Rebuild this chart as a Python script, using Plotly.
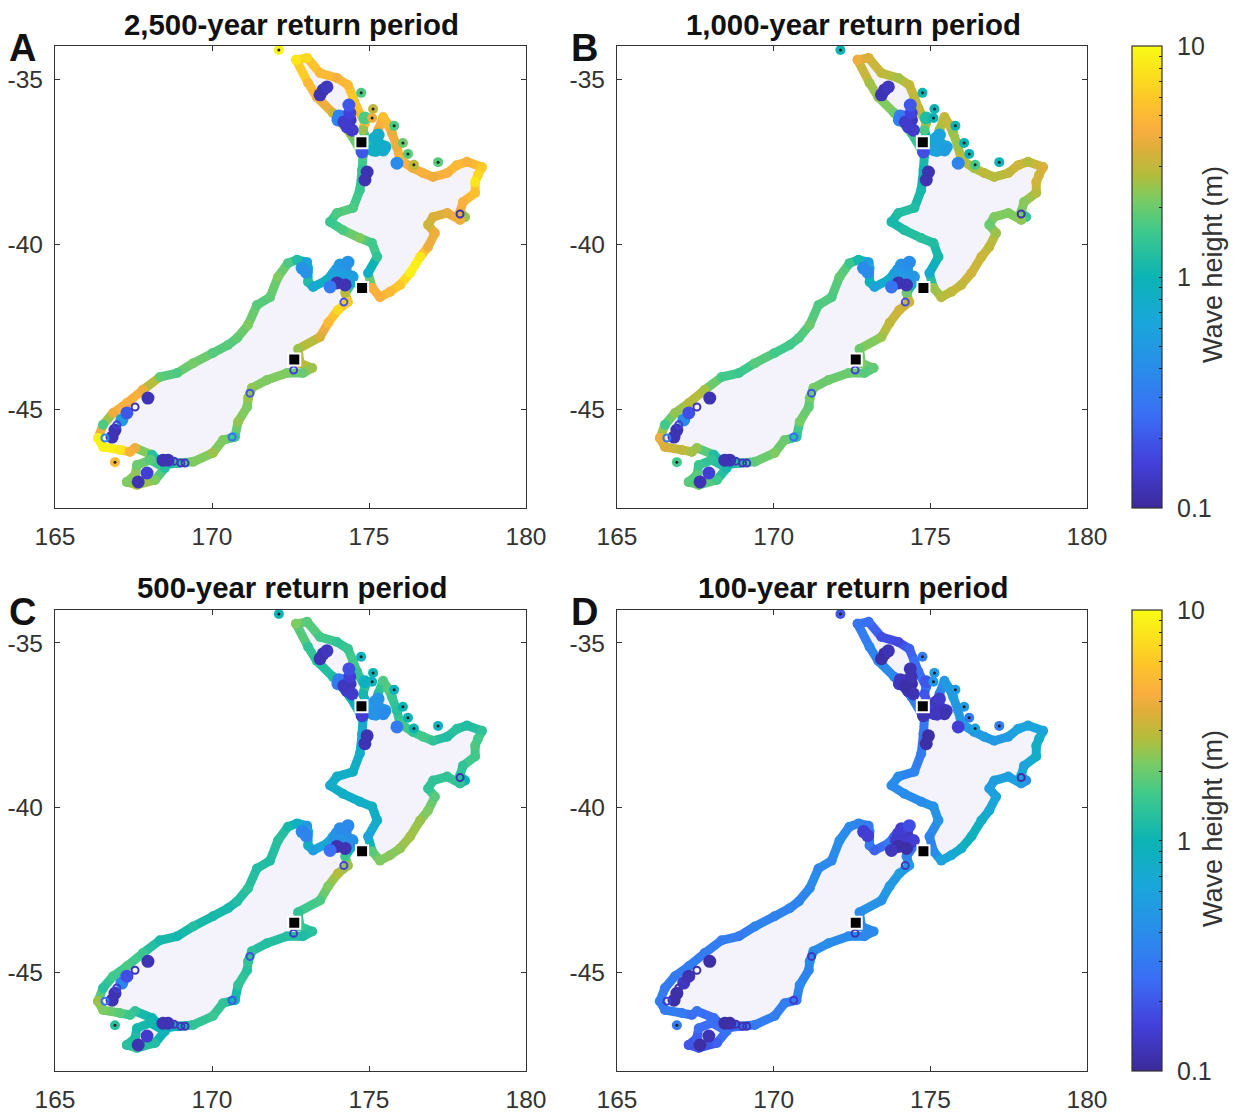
import numpy as np
import plotly.graph_objects as go
from plotly.colors import sample_colorscale

W, H = 1237, 1113
PANELS = ["A", "B", "C", "D"]
TITLES = ["2,500-year return period", "1,000-year return period",
          "500-year return period", "100-year return period"]

# North Island coast
north_lon = [172.68,173.03,173.44,173.98,174.33,174.49,174.62,174.87,174.81,175.03,175.22,175.29,175.45,175.61,175.73,175.89,175.99,176.40,176.72,177.04,177.49,177.80,178.12,178.60,178.47,178.38,178.38,177.99,177.90,178.06,177.90,177.49,177.04,176.88,177.10,176.88,176.63,176.31,175.99,175.67,175.35,175.10,174.97,175.26,175.10,174.71,174.17,173.76,173.98,174.49,174.71,174.78,174.81,174.40,173.85,173.34,173.06,172.68]
north_lat = [-34.42,-34.36,-34.82,-34.97,-35.18,-35.55,-35.88,-36.33,-36.55,-37.15,-37.21,-36.55,-36.15,-36.39,-36.64,-37.06,-37.45,-37.70,-37.85,-37.97,-37.85,-37.61,-37.51,-37.67,-37.91,-38.12,-38.45,-38.73,-39.03,-39.18,-39.27,-39.06,-39.18,-39.42,-39.67,-40.09,-40.39,-40.88,-41.24,-41.45,-41.61,-41.33,-40.88,-40.39,-39.97,-39.82,-39.58,-39.33,-39.06,-38.91,-38.36,-37.76,-37.30,-36.64,-36.03,-35.55,-35.12,-34.42]
north_h = {
 "A":[8,7,5,4.5,5,6,5.5,5,2.5,.8,.8,4,5.5,5,4,4,5,4,4.5,4,4.5,5,4.5,6,7,8,5.5,4.5,4,2.5,4,3.8,3.5,3.2,4,4,8,9,6,5,4.5,4.5,.8,1.4,1.6,2.2,1.7,1.5,1.7,1.7,1.5,1.4,1.7,2.5,3.2,4.5,5,8],
 "B":[4,3.5,3,2.6,3,3,3,2.8,1.7,.6,.6,2.5,3,3.2,2.5,2.5,3,2.6,3,2.8,3,3.2,2.8,3.5,3.3,3.3,2.8,2.3,2.2,1.5,2.4,2.2,2.2,2,2.5,3,3.2,3.3,3,3,2.8,2.5,.7,1.1,1.2,1.3,1.2,1.1,1.2,1.2,1.1,1,1.2,1.6,2,2.4,2.6,4],
 "C":[2.2,1.8,1.6,1.4,1.5,1.6,1.4,1.4,1.1,.5,.5,1.3,1.7,1.8,1.5,1.3,1.6,1.4,1.6,1.4,1.2,1.3,1.2,1.4,1.6,1.7,1.6,1.4,1.3,1,1.4,1.4,1.4,1.4,1.8,2.2,2.5,2.6,2.4,2.3,2.2,1.8,.6,.8,.85,.8,.8,.75,.8,.85,.75,.7,.8,1,1.2,1.3,1.4,2.2],
 "D":[.28,.25,.18,.17,.22,.25,.25,.28,.2,.15,.15,.35,.5,.55,.55,.45,.5,.5,.55,.5,.55,.6,.6,.6,.75,.85,.8,.6,.6,.4,.55,.55,.55,.55,.6,.7,.8,.9,.8,.7,.6,.4,.35,.45,.45,.4,.4,.4,.4,.35,.3,.28,.3,.35,.38,.38,.35,.28],
}

# South Island coast
south_lon = [166.37,166.53,166.85,167.29,167.80,168.34,168.89,169.40,170.03,170.51,170.80,171.15,171.43,171.85,172.10,172.42,172.71,173.03,173.06,173.06,173.22,173.66,173.85,174.30,174.46,174.24,174.33,174.01,173.70,173.44,172.74,172.80,173.19,172.90,172.39,171.75,171.27,171.15,171.12,170.83,170.73,170.35,170.03,169.40,168.89,168.44,168.09,167.55,167.39,167.07,166.53,166.37]
south_lat = [-45.88,-45.48,-45.12,-44.82,-44.42,-44.03,-43.91,-43.61,-43.30,-43.06,-42.85,-42.45,-41.85,-41.61,-41.00,-40.58,-40.48,-40.55,-40.73,-41.15,-41.30,-41.09,-40.88,-40.85,-41.18,-41.48,-41.76,-42.00,-42.39,-42.82,-43.18,-43.61,-43.76,-43.91,-43.91,-44.12,-44.36,-44.67,-44.94,-45.39,-45.85,-45.94,-46.33,-46.60,-46.64,-46.70,-46.39,-46.18,-46.30,-46.24,-46.15,-45.88]
south_h = {
 "A":[9,1.7,4,4.5,4,1.9,1.7,2.1,1.8,1.8,1.9,2.2,1.8,1.9,2.2,1.7,1.2,.6,.7,1.2,.7,.9,.7,.7,.7,2.8,6,7,5,3.5,2.5,3,2.5,2,2.2,2.2,2.4,2.5,2.2,2.4,1.5,2.2,2.5,2.2,1.4,1,1.3,4,4.5,8,9,9],
 "B":[4,1.6,2.4,2.8,2.6,1.6,1.5,1.8,1.6,1.6,1.7,2,1.7,1.7,1.9,1.5,1.1,.55,.7,1,.6,.8,.7,.7,.7,2,3.3,3.3,3,2.5,2,2.2,1.9,1.8,2,2,2.1,2.1,1.9,2.1,1.3,2,2.2,1.9,1.3,1,1.2,2.4,2.6,3,3.5,4],
 "C":[2.5,1.3,1.6,1.7,1.5,1.1,1.05,1.25,1.1,1.1,1.2,1.35,1.2,1.2,1.3,1.1,.85,.5,.6,.8,.55,.7,.6,.6,.6,1.5,2.5,2.8,2.2,1.7,1.4,1.5,1.3,1.2,1.25,1.25,1.35,1.4,1.3,1.4,1,1.4,1.5,1.4,1,.8,1,1.4,1.5,1.8,2.2,2.5],
 "D":[.32,.3,.3,.32,.3,.3,.3,.35,.33,.35,.35,.38,.38,.38,.42,.38,.35,.3,.3,.3,.22,.3,.22,.22,.25,.35,.5,.55,.5,.45,.4,.4,.38,.38,.4,.42,.4,.4,.35,.38,.3,.32,.32,.3,.25,.2,.25,.28,.25,.3,.3,.32],
}

# Stewart Island coast
stewart_lon = [167.29,167.61,168.19,168.50,168.03,167.61,167.55,167.29]
stewart_lat = [-47.21,-47.30,-47.15,-46.79,-46.54,-46.70,-47.00,-47.21]
stewart_h = {
 "A":[2.2,2.8,2.2,1.3,1.8,2,2.4,2.2],
 "B":[1.8,2,1.6,1.1,1.4,1.5,1.8,1.8],
 "C":[1.3,1.4,1.2,.9,1.1,1.1,1.2,1.3],
 "D":[.2,.2,.22,.28,.25,.25,.22,.2],
}

# Harbours and inlets (filled blobs)
inlet_lon = [173.54,173.44,173.66,174.17,174.40,174.30,174.46,174.01,174.04,174.20,174.39,174.36,175.19,175.35,175.51,175.29,175.45,175.13,175.89,174.94,174.87,174.78,174.87,173.98,174.24,174.40,174.17,174.08,174.33,173.92,174.46,173.98,174.24,173.76,172.87,173.00,166.91,166.82,167.13,167.29,167.96,168.44,168.60,167.93,167.65]
inlet_lat = [-35.33,-35.48,-35.24,-36.15,-36.24,-36.45,-36.55,-36.24,-36.12,-36.30,-36.03,-35.79,-36.79,-37.00,-37.06,-36.70,-37.15,-37.15,-37.55,-37.82,-38.06,-37.21,-36.18,-40.79,-40.73,-41.03,-41.00,-40.64,-40.55,-41.00,-41.00,-41.18,-41.24,-41.30,-40.73,-40.85,-45.64,-45.85,-45.33,-45.12,-44.67,-46.55,-46.55,-46.94,-47.21]
inlet_h = {
 "A":[.12,.12,.13,.15,.13,.15,.14,.35,.35,.14,.16,.2,.8,.8,.8,.8,.75,.85,.4,.12,.12,.2,1.7,.55,.5,.5,.55,.5,.45,.6,.55,.12,.12,.3,.45,.45,.12,.12,.5,.2,.12,.12,.12,.15,.12],
 "B":[.12,.12,.13,.15,.13,.15,.14,.35,.3,.14,.16,.2,.6,.6,.6,.6,.55,.6,.35,.12,.12,.18,1.2,.5,.45,.45,.5,.45,.4,.55,.5,.12,.12,.28,.4,.4,.12,.12,.4,.18,.12,.12,.12,.15,.12],
 "C":[.12,.12,.13,.14,.13,.14,.14,.3,.3,.13,.15,.18,.45,.45,.45,.45,.4,.45,.3,.12,.12,.15,.9,.45,.4,.4,.45,.4,.38,.45,.42,.12,.12,.25,.35,.35,.12,.12,.35,.18,.12,.12,.12,.14,.12],
 "D":[.11,.11,.12,.12,.11,.12,.12,.13,.13,.11,.12,.12,.13,.13,.13,.14,.12,.13,.15,.11,.11,.12,.2,.15,.13,.13,.14,.15,.18,.14,.15,.11,.11,.13,.15,.15,.11,.11,.13,.12,.11,.11,.11,.12,.11],
}

# Small sheltered sites (open rings)
ring_lon = [166.97,167.55,166.59,168.79,169.01,169.14,170.64,171.21,172.60,174.20,177.90]
ring_lat = [-45.48,-44.94,-45.88,-46.58,-46.64,-46.64,-45.85,-44.52,-43.82,-41.76,-39.09]
ring_h = {
 "A":[.15,.12,.4,.13,.13,.13,.25,.2,.15,.2,.12],
 "B":[.15,.12,.3,.13,.13,.13,.25,.2,.15,.18,.12],
 "C":[.15,.12,.25,.13,.13,.13,.2,.18,.14,.16,.12],
 "D":[.12,.11,.15,.12,.12,.12,.14,.13,.12,.13,.11],
}

# Offshore islands
island_lon = [172.13,174.75,175.13,175.10,175.80,176.08,176.24,177.20,176.43,166.91]
island_lat = [-34.12,-35.42,-35.91,-36.18,-36.42,-36.94,-37.27,-37.52,-37.60,-46.61]
island_h = {
 "A":[9,1.7,3,4,1.7,2,1.8,1.8,3,5],
 "B":[1,1,1,1,1,1,1,1,1.6,1.6],
 "C":[1,.9,1,.9,.9,1,1,.9,1,1.3],
 "D":[.2,.3,.5,.5,.5,.5,.3,.3,.6,.3],
}

# Cities: Auckland, Wellington, Christchurch
city_lon = [174.76,174.78,172.62]
city_lat = [-36.92,-41.33,-43.50]

CBAR_TICKS = [0.1,0.2,0.3,0.4,0.5,0.6,0.7,0.8,0.9,1,2,3,4,5,6,7,8,9,10]
CBAR_LABELS = ["0.1","1","10"]
CBAR_LABEL_VALUES = [0.1,1,10]

SCALE = [[0,"#3b2a98"],[.1,"#4340dc"],[.2,"#3a6ef5"],[.3,"#2a8cea"],[.4,"#1aa6da"],
         [.5,"#0bb4b4"],[.6,"#3fc98c"],[.67,"#7ccb62"],[.72,"#b2bd3c"],[.78,"#e0ae3a"],
         [.82,"#f9ae3f"],[.88,"#fdc42a"],[.94,"#fbe01c"],[1,"#f9fb15"]]
INK = "#333333"
FONT = "Liberation Sans"
LAND = "#f4f3fb"

XDOM = [(55,526),(617,1087)]
YDOM = [(46,508),(610,1071)]
POS = {"A":(0,0),"B":(1,0),"C":(0,1),"D":(1,1)}

fig = go.Figure()
NBIN = 40

def lg(v):
    return np.log10(np.asarray(v, float))

def coast_lines(lon, lat, h, xa, ya):
    bins = {}
    lv = lg(h)
    for i in range(len(lon)-1):
        t = float(np.clip((lv[i]+lv[i+1])/2*0.5+0.5, 0, 1))
        b = int(round(t*NBIN))
        d = bins.setdefault(b, ([], []))
        d[0].extend([lon[i], lon[i+1], None])
        d[1].extend([lat[i], lat[i+1], None])
    for b, (x, y) in bins.items():
        col = sample_colorscale(SCALE, [b/NBIN])[0]
        fig.add_trace(go.Scatter(x=x, y=y, mode="lines", xaxis=xa, yaxis=ya,
                                 line=dict(color=col, width=9), hoverinfo="skip", showlegend=False))

annots = []
for idx, p in enumerate(PANELS):
    cx, cy = POS[p]
    n = idx+1
    xa, ya = ("x", "y") if n == 1 else (f"x{n}", f"y{n}")
    ca = "coloraxis" if cy == 0 else "coloraxis2"
    for lon, lat in [(north_lon,north_lat),(south_lon,south_lat),(stewart_lon,stewart_lat)]:
        fig.add_trace(go.Scatter(x=lon, y=lat, mode="lines", fill="toself", fillcolor=LAND,
                                 line=dict(width=0), xaxis=xa, yaxis=ya, hoverinfo="skip", showlegend=False))
    for lon, lat, h in [(north_lon,north_lat,north_h[p]),(south_lon,south_lat,south_h[p]),(stewart_lon,stewart_lat,stewart_h[p])]:
        coast_lines(lon, lat, h, xa, ya)
        fig.add_trace(go.Scatter(x=lon, y=lat, mode="markers", xaxis=xa, yaxis=ya, showlegend=False,
                                 marker=dict(size=10, color=lg(h), coloraxis=ca, line=dict(width=0))))
    fig.add_trace(go.Scatter(x=inlet_lon, y=inlet_lat, mode="markers", xaxis=xa, yaxis=ya, showlegend=False,
                             marker=dict(size=13, color=lg(inlet_h[p]), coloraxis=ca, line=dict(width=0))))
    fig.add_trace(go.Scatter(x=ring_lon, y=ring_lat, mode="markers", xaxis=xa, yaxis=ya, showlegend=False,
                             marker=dict(size=7, symbol="circle-open", color=lg(ring_h[p]), coloraxis=ca, line=dict(width=2))))
    fig.add_trace(go.Scatter(x=island_lon, y=island_lat, mode="markers", xaxis=xa, yaxis=ya, showlegend=False,
                             marker=dict(size=10, color=lg(island_h[p]), coloraxis=ca, line=dict(width=0))))
    fig.add_trace(go.Scatter(x=island_lon, y=island_lat, mode="markers", xaxis=xa, yaxis=ya, showlegend=False,
                             hoverinfo="skip", marker=dict(size=3, color="#222222", line=dict(width=0))))
    fig.add_trace(go.Scatter(x=city_lon, y=city_lat, mode="markers", xaxis=xa, yaxis=ya, showlegend=False,
                             marker=dict(size=12, symbol="square", color="black", line=dict(width=2, color="white"))))

    x0, x1 = XDOM[cx]
    y0, y1 = YDOM[cy]
    common = dict(showgrid=False, zeroline=False, showline=True, linecolor=INK, linewidth=1.3,
                  mirror="ticks", ticks="inside", ticklen=5, tickcolor=INK, tickwidth=1.3,
                  tickfont=dict(family=FONT, size=24.5, color=INK))
    fig.update_layout({
        ("xaxis" if n == 1 else f"xaxis{n}"): dict(domain=[x0/W, x1/W], range=[165,180], tickvals=[165,170,175,180],
                                                   anchor=ya, ticklabelstandoff=6, **common),
        ("yaxis" if n == 1 else f"yaxis{n}"): dict(domain=[1-y1/H, 1-y0/H], range=[-48,-34], tickvals=[-35,-40,-45],
                                                   ticktext=["-35","-40","-45"], anchor=xa, ticklabelstandoff=6, **common),
    })
    annots.append(dict(text=f"<b>{TITLES[idx]}</b>", x=((x0+x1)/2+1)/W, y=1-(y0-22-cy)/H, xref="paper", yref="paper",
                       showarrow=False, xanchor="center", yanchor="middle",
                       font=dict(family=FONT, size=29.4, color="#111111")))
    annots.append(dict(text=f"<b>{p}</b>", x=(x0-33)/W, y=1-(y0+2)/H, xref="paper", yref="paper",
                       showarrow=False, xanchor="center", yanchor="middle",
                       font=dict(family=FONT, size=38, color="#111111")))

for y0, y1 in YDOM:
    annots.append(dict(text="Wave height (m)", x=1213/W, y=1-(y0+219)/H, xref="paper", yref="paper",
                       showarrow=False, textangle=-90, xanchor="center", yanchor="middle",
                       font=dict(family=FONT, size=27, color=INK)))
    for label, v in zip(CBAR_LABELS, CBAR_LABEL_VALUES):
        f = (np.log10(v)+1)/2
        annots.append(dict(text=label, x=1175/W, y=1-(y1-f*(y1-y0))/H, xref="paper", yref="paper",
                           showarrow=False, xanchor="left", yanchor="middle",
                           font=dict(family=FONT, size=25, color=INK)))

def caxis(y0, y1):
    return dict(cmin=-1, cmax=1, colorscale=SCALE, colorbar=dict(
        x=1132/W, xanchor="left", xpad=0, y=1-y1/H, yanchor="bottom", ypad=0,
        lenmode="fraction", len=(y1-y0)/H, thicknessmode="pixels", thickness=30,
        outlinecolor=INK, outlinewidth=1.2, ticks="inside", ticklen=3, tickcolor="#222222", tickwidth=1,
        tickmode="array", tickvals=lg(CBAR_TICKS).tolist(), showticklabels=False))

fig.update_layout(width=W, height=H, margin=dict(l=0, r=0, t=0, b=0, autoexpand=False), autosize=False,
                  paper_bgcolor="white", plot_bgcolor="white", showlegend=False,
                  annotations=annots, coloraxis=caxis(*YDOM[0]), coloraxis2=caxis(*YDOM[1]))
fig.write_html("out.html", config={"displayModeBar": False}, post_script="document.body.style.margin='0';")
